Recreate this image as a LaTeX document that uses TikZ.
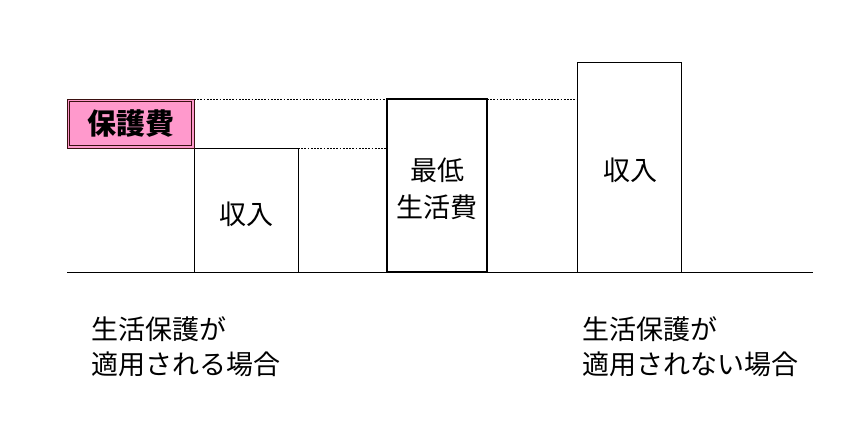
\documentclass[tikz,border=0pt]{standalone}
\usepackage{fontspec}
\setmainfont{Noto Sans CJK JP}
\definecolor{pinkfill}{HTML}{FF99CC}
\definecolor{darkred}{HTML}{3A1010}
\begin{document}
\begin{tikzpicture}[x=1pt,y=-1pt,
  bar/.style={draw=black,line width=0.8pt,fill=white},
  guide/.style={dash pattern=on 1.8pt off 1.4pt,line width=0.7pt},
  lbl/.style={font=\fontsize{27}{35}\selectfont,align=left,anchor=west,inner sep=0pt},
  boxtxt/.style={font=\fontsize{27}{37}\selectfont,align=center,inner sep=0pt}]
\useasboundingbox[fill=white] (0,0) rectangle (855,436);
% baseline
\coordinate (bl) at (67,272);
\coordinate (br) at (813,272);
\draw[line width=0.8pt] (bl) -- (br);
% income box 1
\draw[bar] (194,148) rectangle (298,272);
\node[boxtxt] (inc1) at (246,214) {収入};
% pink box
\draw[draw=darkred,line width=0.8pt,fill=pinkfill] (67,99) rectangle (194,148);
\draw[draw=darkred,line width=0.8pt] (69.5,101.5) rectangle (191.5,145.5);
\node[boxtxt,font=\fontsize{29}{30}\selectfont\bfseries] (hogo) at (131,124) {保護費};
% min living box
\draw[line width=2pt] (387,99) rectangle (487,272);
\node[boxtxt] (min) at (437,189) {最低\\生活費};
% income box 2
\draw[bar] (577,62) rectangle (681,272);
\node[boxtxt] (inc2) at (630,170) {収入};
% dotted guides
\coordinate (g1a) at (194,99);
\coordinate (g1b) at (387,99);
\coordinate (g2a) at (298,148);
\coordinate (g2b) at (387,148);
\coordinate (g3a) at (487,99);
\coordinate (g3b) at (577,99);
\draw[guide] (g1a) -- (g1b);
\draw[guide] (g2a) -- (g2b);
\draw[guide] (g3a) -- (g3b);
% labels
\node[lbl] (la) at (91,347) {生活保護が\\適用される場合};
\node[lbl] (lb) at (582,347) {生活保護が\\適用されない場合};
\end{tikzpicture}
\end{document}
